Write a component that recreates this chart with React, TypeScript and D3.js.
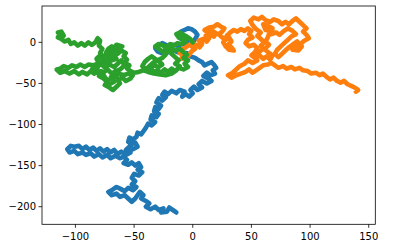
import React from "react";
import * as d3 from "d3";

const blueWalk: [number, number][] = [
  [0,0],[2,4],[4,9],[2,13],[-1,16],[-4,17],[-7,15],[-10,13],[-12,9],[-11,5],[-8,3],[-6,6],[-4,3],[-2,-1],[-5,-3],[-9,-2],[-13,-4],[-17,-3],[-20,-6],[-23,-3],[-26,-1],[-29,-4],[-32,-7],[-30,-11],[-27,-13],[-24,-10],[-21,-12],[-17,-9],[-13,-12],[-9,-14],[-5,-13],[-2,-17],[2,-19],[5,-22],[8,-24],[10,-28],[13,-26],[16,-24],[18,-27],[20,-31],[17,-34],[19,-38],[15,-40],[12,-37],[9,-41],[13,-44],[16,-47],[12,-50],[8,-47],[5,-51],[8,-55],[4,-58],[1,-54],[-2,-58],[0,-62],[-3,-66],[-6,-63],[-9,-66],[-7,-60],[-11,-58],[-14,-62],[-18,-59],[-21,-63],[-24,-60],[-26,-64],[-23,-67],[-26,-71],[-29,-68],[-31,-73],[-27,-77],[-29,-81],[-32,-79],[-33,-84],[-29,-87],[-31,-91],[-35,-89],[-36,-94],[-32,-97],[-35,-101],[-38,-99],[-40,-104],[-42,-108],[-44,-112],[-47,-110],[-48,-115],[-51,-118],[-54,-116],[-55,-121],[-52,-124],[-49,-122],[-47,-127],[-51,-130],[-54,-127],[-57,-131],[-53,-134],[-57,-137],[-61,-133],[-64,-136],[-67,-131],[-70,-134],[-73,-130],[-76,-133],[-79,-129],[-82,-132],[-85,-128],[-88,-131],[-91,-127],[-94,-130],[-97,-126],[-101,-127],[-104,-126],[-107,-130],[-105,-134],[-101,-132],[-98,-136],[-94,-134],[-91,-137],[-87,-135],[-84,-139],[-80,-136],[-77,-140],[-73,-137],[-70,-141],[-66,-138],[-62,-141],[-59,-139],[-56,-143],[-59,-147],[-55,-149],[-52,-146],[-49,-150],[-46,-147],[-44,-152],[-47,-155],[-43,-158],[-46,-162],[-50,-160],[-52,-165],[-49,-169],[-52,-173],[-48,-176],[-51,-180],[-55,-177],[-58,-181],[-62,-178],[-65,-176],[-68,-179],[-72,-182],[-69,-186],[-65,-184],[-62,-188],[-58,-186],[-55,-190],[-52,-194],[-49,-190],[-47,-186],[-45,-182],[-42,-186],[-44,-190],[-40,-193],[-37,-196],[-40,-200],[-36,-203],[-32,-200],[-29,-204],[-25,-202],[-27,-207],[-22,-206],[-20,-201],[-17,-204],[-14,-207]
];

const orangeWalk: [number, number][] = [
  [0,0],[-3,-3],[-6,-6],[-9,-9],[-11,-13],[-8,-16],[-10,-20],[-6,-19],[-3,-15],[-1,-11],[2,-8],[-1,-5],[3,-3],[6,-6],[8,-2],[5,2],[9,4],[12,1],[14,5],[11,8],[15,10],[18,7],[20,11],[17,14],[13,12],[10,15],[14,18],[18,19],[21,22],[24,19],[27,17],[25,13],[22,10],[25,6],[28,3],[31,6],[33,1],[30,-3],[33,-6],[35,-10],[31,-9],[28,-5],[26,0],[29,8],[32,12],[35,15],[38,13],[41,16],[44,14],[47,17],[50,14],[48,10],[51,6],[47,3],[45,-1],[48,-5],[52,-3],[55,-7],[53,-12],[50,-16],[53,-19],[57,-16],[60,-20],[63,-17],[66,-21],[68,-16],[64,-12],[61,-8],[58,-4],[61,0],[58,4],[55,8],[58,12],[54,16],[51,21],[49,26],[52,30],[56,28],[59,31],[62,27],[66,25],[69,28],[73,26],[76,22],[79,25],[82,22],[85,26],[88,29],[91,25],[94,21],[97,17],[94,13],[97,9],[99,5],[95,2],[92,-2],[88,-5],[85,-9],[90,-10],[93,-5],[89,1],[86,-2],[82,-6],[79,-10],[76,-14],[73,-18],[70,-14],[72,-9],[75,-5],[78,-1],[81,3],[84,7],[88,10],[85,14],[81,17],[77,13],[74,9],[71,12],[67,10],[68,17],[64,20],[60,22],[62,15],[66,14],[64,6],[62,1],[65,-3],[62,-7],[58,-10],[55,-14],[52,-18],[55,-22],[51,-25],[47,-22],[44,-26],[40,-29],[37,-33],[34,-37],[30,-40],[33,-43],[37,-40],[41,-38],[45,-36],[48,-33],[51,-37],[54,-34],[57,-31],[60,-28],[64,-27],[67,-25],[70,-28],[73,-31],[77,-29],[80,-32],[84,-30],[87,-33],[91,-31],[94,-34],[98,-35],[101,-38],[105,-37],[108,-40],[111,-38],[114,-42],[117,-45],[120,-43],[123,-47],[126,-49],[129,-47],[132,-51],[135,-53],[138,-55],[141,-58],[139,-60]
];

const greenWalk: [number, number][] = [
  [0,0],[-2,4],[-5,7],[-8,9],[-11,12],[-14,10],[-12,6],[-9,4],[-6,1],[-9,-2],[-13,-1],[-16,-4],[-19,-2],[-22,-5],[-19,-8],[-15,-10],[-11,-8],[-8,-12],[-5,-15],[-8,-19],[-4,-22],[-7,-26],[-4,-30],[-8,-33],[-12,-31],[-15,-35],[-18,-32],[-21,-36],[-24,-33],[-27,-37],[-30,-34],[-33,-36],[-36,-32],[-33,-28],[-29,-30],[-26,-27],[-29,-23],[-32,-20],[-35,-17],[-38,-20],[-41,-24],[-43,-29],[-40,-33],[-37,-29],[-34,-25],[-30,-22],[-26,-19],[-23,-15],[-26,-11],[-29,-8],[-32,-5],[-29,-2],[-25,-4],[-21,-10],[-18,-14],[-15,-18],[-12,-22],[-15,-26],[-11,-29],[-14,-34],[-18,-38],[-23,-40],[-28,-39],[-33,-38],[-38,-36],[-42,-34],[-46,-36],[-50,-37],[-53,-35],[-56,-32],[-54,-28],[-58,-25],[-56,-21],[-59,-17],[-57,-13],[-61,-10],[-64,-14],[-66,-9],[-69,-5],[-72,-8],[-74,-13],[-71,-17],[-75,-19],[-79,-16],[-82,-20],[-80,-25],[-83,-29],[-86,-33],[-82,-37],[-78,-35],[-80,-41],[-76,-44],[-73,-48],[-75,-52],[-71,-55],[-68,-58],[-65,-54],[-62,-50],[-64,-46],[-60,-43],[-57,-47],[-53,-44],[-51,-40],[-55,-38],[-59,-40],[-63,-38],[-66,-42],[-69,-38],[-72,-34],[-75,-30],[-71,-27],[-67,-30],[-64,-26],[-61,-22],[-58,-28],[-62,-33],[-67,-36],[-70,-43],[-67,-48],[-71,-51],[-74,-44],[-77,-38],[-73,-33],[-77,-28],[-72,-23],[-68,-14],[-64,-8],[-60,-5],[-65,-3],[-70,-12],[-65,-20],[-69,-22],[-73,-24],[-77,-22],[-81,-26],[-85,-28],[-89,-27],[-92,-30],[-96,-27],[-99,-30],[-103,-28],[-106,-31],[-110,-29],[-113,-32],[-116,-33],[-113,-37],[-109,-35],[-105,-38],[-101,-35],[-97,-39],[-94,-36],[-90,-39],[-87,-35],[-84,-38],[-82,-33],[-80,-28],[-78,-23],[-76,-18],[-79,-13],[-77,-8],[-80,-4],[-79,2],[-81,5],[-83,0],[-86,-3],[-89,0],[-92,-4],[-95,-1],[-98,-4],[-101,0],[-104,-2],[-106,3],[-109,1],[-112,4],[-115,6],[-113,10],[-110,8],[-112,13],[-115,12]
];

const xTicks = [-100, -50, 0, 50, 100, 150];
const yTicks = [0, -50, -100, -150, -200];
const colors = ["#1f77b4", "#ff7f0e", "#2ca02c"];

const W = 394, H = 247;
const L = 42, R = 375.3, T = 6, B = 224.3;

export default function App() {
  const x = d3.scaleLinear().domain([-128.5, 155.6]).range([L, R]);
  const y = d3.scaleLinear().domain([-221.4, 44.2]).range([B, T]);
  const line = d3.line<[number, number]>().x(d => x(d[0])).y(d => y(d[1]));
  const walks = [blueWalk, orangeWalk, greenWalk];
  const fmt = (v: number) => (v < 0 ? "\u2212" + Math.abs(v) : String(v));
  return (
    <svg width={W} height={H} style={{ position: "absolute", left: 0, top: 0, background: "#fff" }}
      fontFamily="DejaVu Sans" fontSize={10}>
      <rect width={W} height={H} fill="#fff" />
      <defs>
        <clipPath id="c"><rect x={L} y={T} width={R - L} height={B - T} /></clipPath>
      </defs>
      <g clipPath="url(#c)">
        {walks.map((w, i) => (
          <path key={i} d={line(w) || ""} fill="none" stroke={colors[i]} strokeWidth={4.6}
            strokeLinejoin="round" strokeLinecap="round" />
        ))}
      </g>
      <rect x={L} y={T} width={R - L} height={B - T} fill="none" stroke="#000" strokeWidth={0.8} />
      {xTicks.map(t => (
        <g key={t}>
          <line x1={x(t)} x2={x(t)} y1={B} y2={B + 3.5} stroke="#000" strokeWidth={0.8} />
          <text x={x(t)} y={B + 15.5} textAnchor="middle" fill="#000">{fmt(t)}</text>
        </g>
      ))}
      {yTicks.map(t => (
        <g key={t}>
          <line x1={L - 3.5} x2={L} y1={y(t)} y2={y(t)} stroke="#000" strokeWidth={0.8} />
          <text x={L - 6} y={y(t) + 3.5} textAnchor="end" fill="#000">{fmt(t)}</text>
        </g>
      ))}
    </svg>
  );
}
